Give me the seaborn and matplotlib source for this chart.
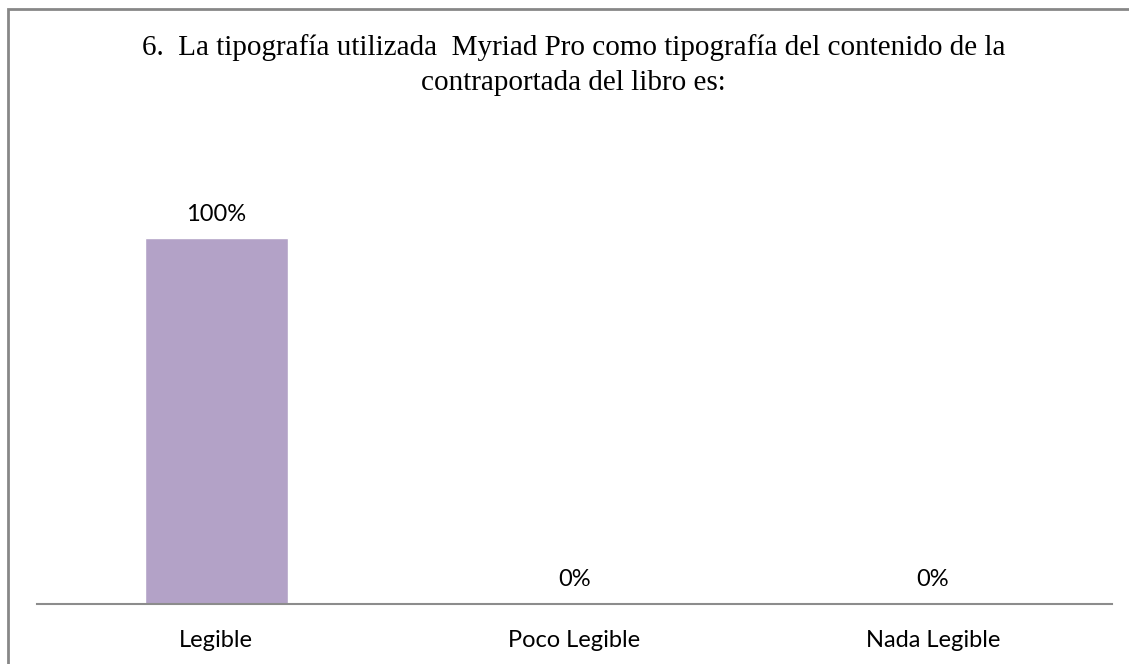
import matplotlib
matplotlib.use("Agg")
import matplotlib.pyplot as plt
import seaborn as sns
import pandas as pd
from matplotlib.patches import Rectangle

categories = ["Legible", "Poco Legible", "Nada Legible"]
values = [100, 0, 0]
value_labels = ["100%", "0%", "0%"]
title_lines = ["6.  La tipografía utilizada  Myriad Pro como tipografía del contenido de la",
               "contraportada del libro es:"]

sns.set_theme(style="white")
plt.rcParams['font.family'] = ['Lato', 'DejaVu Sans']

W, H = 1129, 664
fig = plt.figure(figsize=(W / 100, H / 100), dpi=100)
ax = fig.add_axes([37 / W, (H - 604) / H, (1112 - 37) / W, (604 - 165) / H])

df = pd.DataFrame({"cat": categories, "val": values})
sns.barplot(data=df, x="cat", y="val", color="#B3A2C7", saturation=1, width=0.40, ax=ax)
ax.set_ylim(0, 120)
ax.set_xlim(-0.5, 2.5)
for p, lab in zip(ax.patches, value_labels):
    x = p.get_x() + p.get_width() / 2
    ax.text(x, p.get_height() + 4.8, lab, ha="center", va="baseline", fontsize=17, color="#000000")

ax.set_xlabel("")
ax.set_ylabel("")
ax.set_yticks([])
ax.tick_params(axis="x", length=0, pad=19, labelsize=17, labelcolor="#000000")
for s in ["top", "right", "left"]:
    ax.spines[s].set_visible(False)
ax.spines["bottom"].set_color("#8C8C8C")
ax.spines["bottom"].set_linewidth(1.5)

for i, (line, yb) in enumerate(zip(title_lines, [55, 90])):
    fig.text(573.5 / W, 1 - yb / H, line, ha="center", va="baseline", fontsize=21,
             family=["Liberation Serif", "DejaVu Serif"], color="#000000")

fig.patches.append(Rectangle((8 / W, -0.1), 1.2, 1 - 9 / H + 0.1, transform=fig.transFigure,
                             fill=False, edgecolor="#878787", linewidth=2))

fig.savefig("out.png", dpi=100)
